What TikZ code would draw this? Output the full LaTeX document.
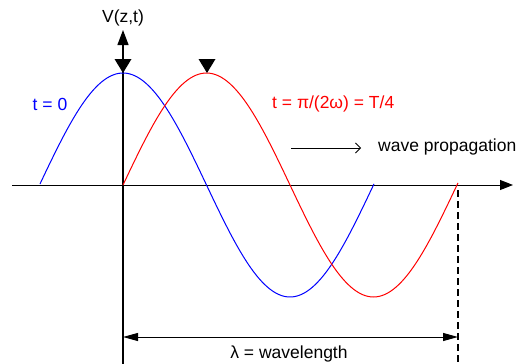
\documentclass[tikz,border=0pt]{standalone}
\usepackage{fontspec}
\setmainfont{Liberation Sans}
\usetikzlibrary{arrows.meta}
\tikzset{
  axis/.style={line width=1pt},
  wave/.style={line width=1pt},
  lbl/.style={inner sep=0pt, font=\fontsize{17.5}{20}\selectfont},
  marker/.style={fill=black, draw=none},
}
\begin{document}
\begin{tikzpicture}[x=1pt,y=-1pt]
\useasboundingbox (0,0) rectangle (525,364);
% coordinates
\coordinate (xstart) at (12,185);
\coordinate (xend) at (513,185);
\coordinate (ybot) at (123,364);
\coordinate (ytop) at (123,30);
\coordinate (dtop) at (458,190);
\coordinate (dbot) at (458,364);
\coordinate (wl) at (123,337);
\coordinate (wr) at (458,337);
\coordinate (pa) at (291,148);
\coordinate (pb) at (361,148);
% axes
\draw[axis, -{Triangle[length=13pt,width=10pt]}] (xstart) -- (xend);
\draw[axis, line width=1.2pt, -{Triangle[length=15pt,width=11pt]}] (ybot) -- (ytop);
% waves
\draw[wave, blue] plot[domain=40:374, samples=120, smooth] ({\x},{185-112*cos((\x-123)/334*360)});
\draw[wave, red] plot[domain=123:458, samples=120, smooth] ({\x},{185-112*sin((\x-123)/334*360)});
% peak markers
\fill[marker] (114.5,59) -- (131.5,59) -- (123,73) -- cycle;
\fill[marker] (198.5,59) -- (215.5,59) -- (207,73) -- cycle;
% dashed line
\draw[line width=1.6pt, dash pattern=on 7pt off 4pt] (dtop) -- (dbot);
% wavelength dimension
\draw[line width=1pt, {Triangle[length=15pt,width=8pt]}-{Triangle[length=15pt,width=8pt]}] (wl) -- (wr);
% propagation arrow
\draw[line width=0.8pt, -{Straight Barb[length=5pt,width=10pt]}] (pa) -- (pb);
% labels
\node[lbl] (vlab) at (123,18) {V(z,t)};
\node[lbl, text=blue] (t0) at (50,104) {t = 0};
\node[lbl, text=red, anchor=west] (t1) at (272,104) {t = π/(2ω) = T/4};
\node[lbl, anchor=west] (prop) at (378,147) {wave propagation};
\node[lbl] (wlab) at (289,354) {λ = wavelength};
\end{tikzpicture}
\end{document}
